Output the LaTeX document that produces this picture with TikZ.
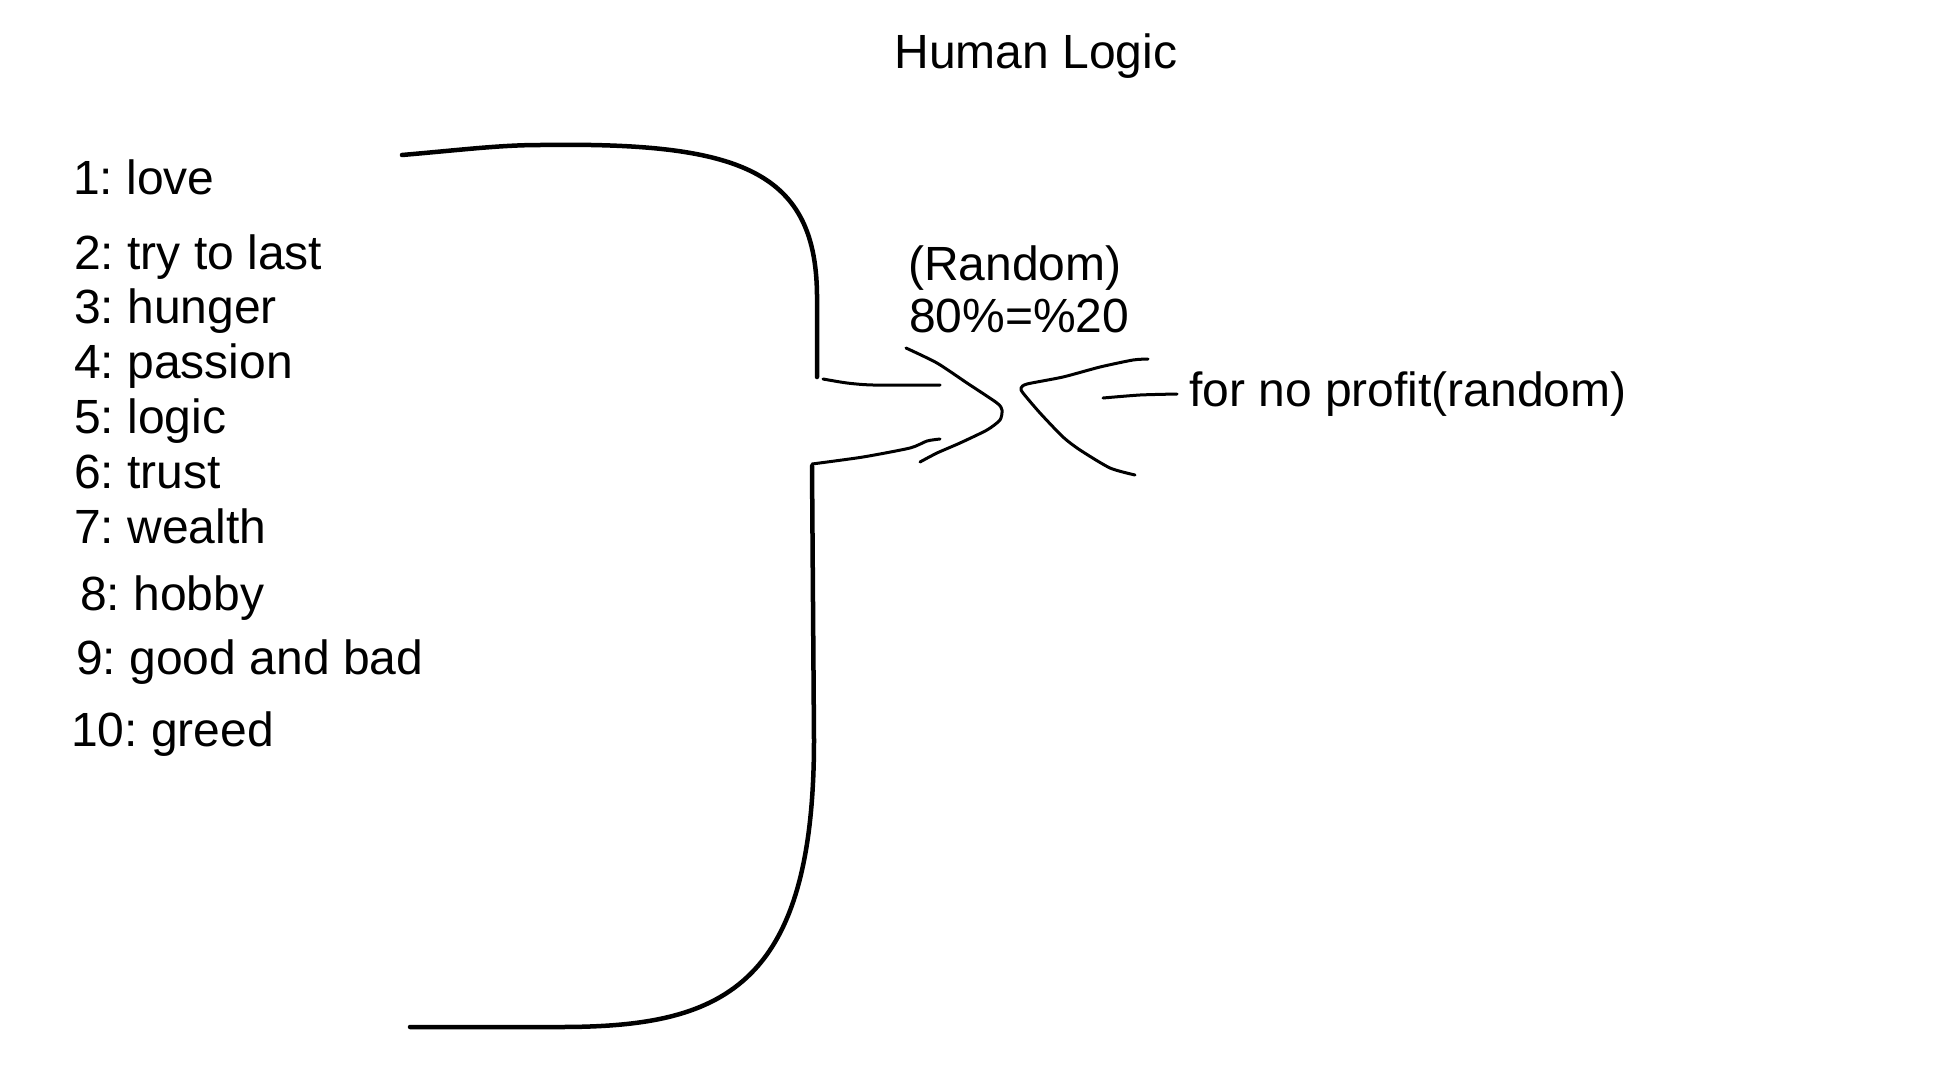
\documentclass[tikz,border=0pt]{standalone}
\usepackage{fontspec}
\setmainfont{Liberation Sans}
\begin{document}
\begin{tikzpicture}[x=1pt,y=-1pt,
  lbl/.style={inner sep=0pt,anchor=base west,font=\frenchspacing\fontsize{48}{56}\selectfont},
  thick stroke/.style={line width=4.5pt,line cap=round,line join=round},
  thin stroke/.style={line width=3pt,line cap=round,line join=round}]
\useasboundingbox (0,0) rectangle (1936,1074);
% title
\node[lbl,anchor=base] (title) at (1036,68) {Human Logic};
% list
\node[lbl] (l1) at (73,194) {1: love};
\node[lbl] (l2) at (74,269) {2: try to last};
\node[lbl] (l3) at (74,323) {3: hunger};
\node[lbl] (l4) at (74,378) {4: passion};
\node[lbl] (l5) at (74,433) {5: logic};
\node[lbl] (l6) at (74,488) {6: trust};
\node[lbl] (l7) at (74,543) {7: wealth};
\node[lbl] (l8) at (80,610) {8: hobby};
\node[lbl] (l9) at (76,674) {9: good and bad};
\node[lbl] (l10) at (71,746) {10: greed};
% centre labels
\node[lbl] (rand) at (908,280) {(Random)};
\node[lbl] (pct) at (909,332) {80\%=\%20};
\node[lbl] (prof) at (1189,406) {for no profit(random)};
% upper bracket
\draw[thick stroke] (402,155) .. controls (460,150) and (500,145) .. (540,145)
  .. controls (740,142) and (818,170) .. (817,300) -- (817,377);
% lower bracket
\draw[thick stroke] (812,466) -- (814,740)
  .. controls (814,990) and (720,1027) .. (560,1027) -- (410,1027);
% lower bracket top stroke
\draw[thin stroke] plot[smooth,tension=0.4] coordinates
  {(812,464) (863,457) (910,448) (927,441) (940,439)};
% upper horizontal stroke
\draw[thin stroke] plot[smooth,tension=0.4] coordinates
  {(823,379) (847,383) (873,385) (940,385)};
% ">" shape
\draw[thin stroke] plot[smooth,tension=0.4] coordinates
  {(906,348) (937,363) (967,383) (997,403) (1002,410) (1000,420) (987,430) (960,443) (937,453) (920,462)};
% "<" shape
\draw[thin stroke] plot[smooth,tension=0.4] coordinates
  {(1148,359) (1133,360) (1100,367) (1063,377) (1027,384) (1021,388) (1023,393) (1040,413) (1063,437) (1080,450) (1110,468) (1135,475)};
% short line to label
\draw[thin stroke] plot[smooth,tension=0.4] coordinates
  {(1103,398) (1140,395) (1177,394)};
\end{tikzpicture}
\end{document}
